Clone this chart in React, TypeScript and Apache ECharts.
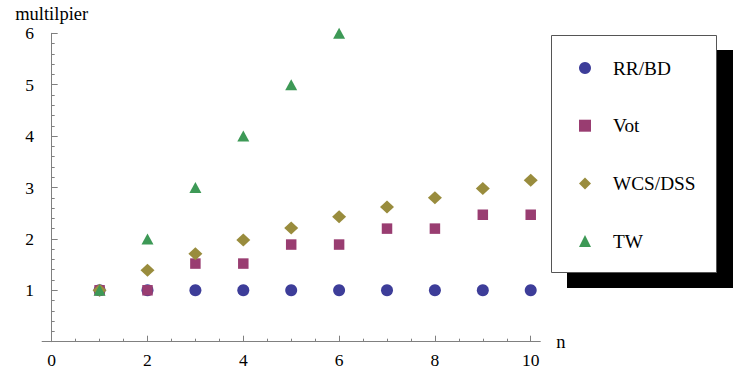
import React, { useEffect, useRef } from "react";
import * as echarts from "echarts";

const nValues = [1, 2, 3, 4, 5, 6, 7, 8, 9, 10];
const rrbd = [1, 1, 1, 1, 1, 1, 1, 1, 1, 1];
const vot = [1, 1, 1.52, 1.52, 1.89, 1.89, 2.2, 2.2, 2.47, 2.47];
const wcsdss = [1, 1.39, 1.71, 1.98, 2.21, 2.43, 2.62, 2.8, 2.98, 3.14];
const twN = [1, 2, 3, 4, 5, 6];
const tw = [1, 2, 3, 4, 5, 6];
const xLabelValues = [0, 2, 4, 6, 8, 10];
const xMinorTicks = [0.5, 1, 1.5, 2.5, 3, 3.5, 4.5, 5, 5.5, 6.5, 7, 7.5, 8.5, 9, 9.5];
const seriesNames = ["RR/BD", "Vot", "WCS/DSS", "TW"];

const FONT = "Liberation Serif";
const colors = ["#3d3d99", "#993d71", "#998c3d", "#3d9956"];

export default function App() {
  const ref = useRef<HTMLDivElement>(null);
  useEffect(() => {
    if (!ref.current) return;
    const chart = echarts.init(ref.current, undefined, { renderer: "svg" });
    const pair = (xs: number[], ys: number[]) => xs.map((x, i) => [x, ys[i]]);
    const axisGray = "#808080";
    const txt = { fontFamily: FONT, fontSize: 17.5, color: "#000" };
    chart.setOption({
      animation: false,
      backgroundColor: "#ffffff",
      textStyle: { fontFamily: FONT },
      grid: { left: 42.1, right: 206.7, top: 33.3, bottom: 41.3, outerBoundsMode: "none" },
      xAxis: [
        {
          type: "value",
          position: "bottom",
          min: -0.2,
          max: 10.2,
          name: "n",
          nameLocation: "end",
          nameGap: 16,
          nameTextStyle: { ...txt, fontSize: 18.5, verticalAlign: "middle" },
          axisLine: { show: true, onZero: true, lineStyle: { color: axisGray, width: 1 } },
          axisTick: { show: true, inside: true, length: 6, customValues: xLabelValues, lineStyle: { color: axisGray } },
          axisLabel: { show: true, customValues: xLabelValues, margin: 9, ...txt },
          splitLine: { show: false },
        },
        {
          type: "value",
          position: "bottom",
          min: -0.2,
          max: 10.2,
          axisLine: { show: false, onZero: true },
          axisTick: { show: true, inside: true, length: 3, customValues: xMinorTicks, lineStyle: { color: axisGray } },
          axisLabel: { show: false },
          splitLine: { show: false },
        },
      ],
      yAxis: {
        type: "value",
        min: 0,
        max: 6,
        interval: 1,
        name: "multilpier",
        nameLocation: "end",
        nameGap: 10,
        nameTextStyle: { ...txt, fontSize: 18.5, align: "center" },
        axisLine: { show: true, onZero: true, lineStyle: { color: axisGray, width: 1 } },
        axisTick: { show: true, inside: true, length: 6, lineStyle: { color: axisGray } },
        minorTick: { show: true, splitNumber: 5, length: 3, lineStyle: { color: axisGray } },
        axisLabel: {
          margin: 8,
          ...txt,
          formatter: (v: number) => (v === 0 ? "" : String(v)),
        },
        splitLine: { show: false },
      },
      legend: {
        orient: "vertical",
        left: 579,
        top: 58,
        padding: 0,
        itemWidth: 12,
        itemHeight: 12,
        itemGap: 37.7,
        textStyle: { ...txt, fontSize: 19.3, lineHeight: 20, padding: [0, 0, 0, 17] },
        data: [
          { name: seriesNames[0], icon: "circle" },
          { name: seriesNames[1], icon: "rect" },
          { name: seriesNames[2], icon: "diamond" },
          { name: seriesNames[3], icon: "triangle" },
        ],
        z: 10,
      },
      graphic: [
        { type: "rect", z: 1, shape: { x: 567, y: 50, width: 166, height: 238 }, style: { fill: "#000" } },
        {
          type: "rect",
          z: 2,
          shape: { x: 551.5, y: 35.5, width: 165, height: 237 },
          style: { fill: "#fff", stroke: "#555", lineWidth: 1 },
        },
      ],
      series: [
        { type: "scatter", name: seriesNames[0], data: pair(nValues, rrbd), symbol: "circle", symbolSize: 12, itemStyle: { color: colors[0], opacity: 1 }, z: 3 },
        { type: "scatter", name: seriesNames[1], data: pair(nValues, vot), symbol: "rect", symbolSize: 10.5, itemStyle: { color: colors[1], opacity: 1 }, z: 4 },
        { type: "scatter", name: seriesNames[2], data: pair(nValues, wcsdss), symbol: "diamond", symbolSize: [14, 13], itemStyle: { color: colors[2], opacity: 1 }, z: 5 },
        { type: "scatter", name: seriesNames[3], data: pair(twN, tw), symbol: "triangle", symbolSize: [12, 11], itemStyle: { color: colors[3], opacity: 1 }, z: 6, clip: false },
      ],
    });
    return () => chart.dispose();
  }, []);
  return <div ref={ref} style={{ position: "absolute", left: 0, top: 0, width: 747, height: 383 }} />;
}
